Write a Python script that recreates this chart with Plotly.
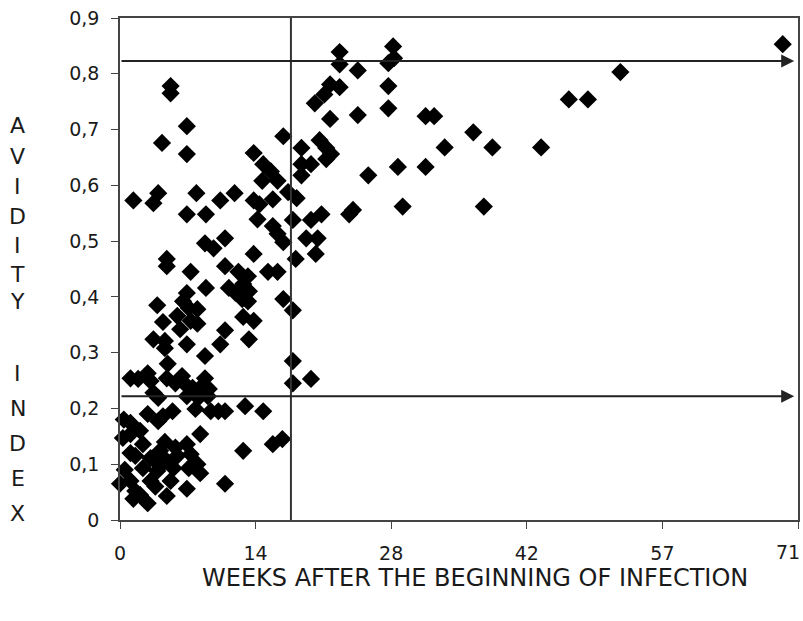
import plotly.graph_objects as go

# Weeks after the beginning of infection
weeks = [
    69.4, 52.4, 47.0, 49.0, 32.0, 32.9, 37.0, 34.0, 39.0, 44.1, 29.1, 32.0, 29.6, 38.1,
    28.6, 28.1, 28.7, 28.1, 28.1,
    23.0, 23.0, 24.9, 22.0, 23.0, 21.4, 20.4, 22.0, 24.9,
    17.1, 19.0, 20.9, 21.6, 22.1, 21.6, 19.0, 20.0, 19.0, 26.0,
    17.6, 18.5, 24.4, 24.0, 18.1, 20.0, 21.1, 19.5, 20.7, 17.1, 20.5, 18.4,
    5.3, 5.3, 7.0, 4.4, 7.0, 14.0, 15.0, 15.8, 14.9, 16.5,
    1.4, 4.0, 3.5, 8.0, 10.5, 12.0, 14.0, 14.6, 16.0,
    7.0, 9.0, 14.4, 16.0, 16.5,
    8.9, 9.8, 11.0, 14.0, 4.9,
    4.9, 7.4, 11.0, 12.4, 13.4, 15.5, 16.5, 12.9, 7.0, 9.0, 11.4, 12.1, 13.5, 12.8, 13.4,
    3.9, 6.6, 7.2, 8.1, 17.1, 18.1, 4.5, 6.0, 6.3, 7.4, 8.1, 11.0, 12.9, 14.0, 13.5,
    3.5, 4.7, 4.7, 7.0, 10.5, 8.9, 5.0, 18.1, 18.1, 20.0,
    1.1, 1.9, 2.9, 3.2, 4.9, 5.8, 6.5, 6.8, 7.6, 8.4, 8.9, 9.3, 3.5, 4.0, 7.0, 8.2, 9.2,
    7.9, 9.5, 10.3, 11.0, 13.1, 15.0, 2.9, 4.5, 5.5, 1.1,
    4.0, 1.1, 0.3, 8.4, 2.4, 3.2, 4.2, 4.9, 2.4, 3.9, 5.6, 7.0, 7.4, 7.2, 8.1, 8.4,
    0.0, 1.1, 1.6, 1.4, 2.9, 4.9, 7.0, 11.0, 12.9, 16.0, 17.0, 3.2,
    2.1, 4.7, 5.8, 1.6, 3.7, 5.3, 0.5, 2.1, 4.2, 6.0, 0.4, 1.1,
]

# Avidity index
avidity = [
    0.853, 0.803, 0.754, 0.754, 0.724, 0.724, 0.695, 0.668, 0.668, 0.668, 0.633, 0.633, 0.562, 0.562,
    0.849, 0.819, 0.828, 0.778, 0.738,
    0.839, 0.817, 0.806, 0.781, 0.776, 0.763, 0.747, 0.719, 0.726,
    0.688, 0.667, 0.681, 0.667, 0.656, 0.647, 0.638, 0.638, 0.618, 0.618,
    0.588, 0.577, 0.556, 0.548, 0.538, 0.538, 0.548, 0.505, 0.505, 0.498, 0.477, 0.468,
    0.778, 0.765, 0.706, 0.676, 0.656, 0.658, 0.638, 0.625, 0.608, 0.608,
    0.573, 0.586, 0.568, 0.586, 0.573, 0.586, 0.573, 0.566, 0.575,
    0.548, 0.548, 0.539, 0.527, 0.513,
    0.496, 0.487, 0.505, 0.477, 0.468,
    0.455, 0.445, 0.455, 0.445, 0.437, 0.445, 0.445, 0.423, 0.407, 0.416, 0.416, 0.407, 0.410, 0.396, 0.392,
    0.385, 0.392, 0.380, 0.378, 0.396, 0.376, 0.355, 0.366, 0.342, 0.357, 0.352, 0.340, 0.364, 0.357, 0.324,
    0.324, 0.308, 0.321, 0.315, 0.315, 0.294, 0.280, 0.285, 0.245, 0.253,
    0.254, 0.253, 0.263, 0.249, 0.254, 0.245, 0.258, 0.244, 0.237, 0.237, 0.254, 0.235, 0.228, 0.219, 0.222, 0.219, 0.222,
    0.199, 0.195, 0.195, 0.195, 0.204, 0.195, 0.190, 0.186, 0.195, 0.174,
    0.177, 0.154, 0.147, 0.154, 0.136, 0.111, 0.124, 0.106, 0.093, 0.088, 0.093, 0.136, 0.118, 0.093, 0.100, 0.084,
    0.065, 0.070, 0.052, 0.038, 0.030, 0.043, 0.056, 0.065, 0.124, 0.136, 0.145, 0.070,
    0.160, 0.140, 0.130, 0.115, 0.060, 0.070, 0.090, 0.045, 0.097, 0.115, 0.180, 0.120,
]

x_tickvals = [0, 14.2, 28.4, 42.6, 56.8, 71]
x_ticktext = ["0", "14", "28", "42", "57", "71"]
y_tickvals = [0, 0.1, 0.2, 0.3, 0.4, 0.5, 0.6, 0.7, 0.8, 0.9]
y_ticktext = ["0", "0,1", "0,2", "0,3", "0,4", "0,5", "0,6", "0,7", "0,8", "0,9"]

cutoff_week = 17.9
high_avidity = 0.823
low_avidity = 0.222
arrow_end = 70.6

FONT = "DejaVu Sans"
INK = "#1a1a1a"

fig = go.Figure()
fig.add_trace(go.Scatter(
    x=weeks, y=avidity, mode="markers",
    marker=dict(symbol="diamond", size=14, color="black", line=dict(width=0)),
    cliponaxis=False, showlegend=False,
))

fig.add_shape(type="line", xref="x", yref="y", x0=cutoff_week, x1=cutoff_week,
              y0=0, y1=0.9, line=dict(color="#333", width=2))

for yv in (high_avidity, low_avidity):
    fig.add_annotation(x=arrow_end, y=yv, ax=0, ay=yv, xref="x", yref="y",
                       axref="x", ayref="y", showarrow=True, arrowhead=2,
                       arrowsize=1.3, arrowwidth=2, arrowcolor="#222", text="")

# vertical y-axis title, one letter per row
title_letters = ["A", "V", "I", "D", "I", "T", "Y", "I", "N", "D", "E", "X"]
title_rows_px = [125, 156, 186, 216, 245, 274, 302, 373, 408, 443, 478, 513]
for ch, py in zip(title_letters, title_rows_px):
    fig.add_annotation(text=ch, xref="paper", yref="paper",
                       x=(18 - 120) / 678, y=(520 - py) / 502,
                       showarrow=False, xanchor="center", yanchor="middle",
                       font=dict(family=FONT, size=22, color=INK))

# last x tick label sits at the right edge: draw it nudged inward so it is not cut
fig.add_annotation(text=x_ticktext[-1], xref="x", yref="paper",
                   x=x_tickvals[-1], y=(520 - 552) / 502, xshift=-10,
                   showarrow=False, xanchor="center", yanchor="middle",
                   font=dict(family=FONT, size=19, color=INK))

fig.add_annotation(
    text="WEEKS AFTER THE BEGINNING OF INFECTION",
    xref="paper", yref="paper", x=0.524, y=-0.1155, yanchor="middle", showarrow=False,
    font=dict(family=FONT, size=24, color=INK),
)

fig.update_xaxes(range=[0, 71], tickvals=x_tickvals,
                 ticktext=x_ticktext[:-1] + [""],
                 showgrid=False, zeroline=False, showline=True, mirror=True,
                 linecolor="#444", linewidth=1.5, ticks="outside", ticklen=7,
                 tickcolor="#444", ticklabelstandoff=8,
                 tickfont=dict(family=FONT, size=19, color=INK))
fig.update_yaxes(range=[0, 0.9], tickvals=y_tickvals, ticktext=y_ticktext,
                 showgrid=False, zeroline=False, showline=True, mirror=True,
                 linecolor="#444", linewidth=1.5, ticks="outside", ticklen=7,
                 tickcolor="#444", ticklabelstandoff=8,
                 tickfont=dict(family=FONT, size=19, color=INK))

fig.update_layout(
    width=803, height=621,
    margin=dict(l=120, r=5, t=18, b=101, autoexpand=False),
    paper_bgcolor="white", plot_bgcolor="white",
)

fig.write_html("out.html", config={"displayModeBar": False},
               post_script="document.body.style.margin='0';")
